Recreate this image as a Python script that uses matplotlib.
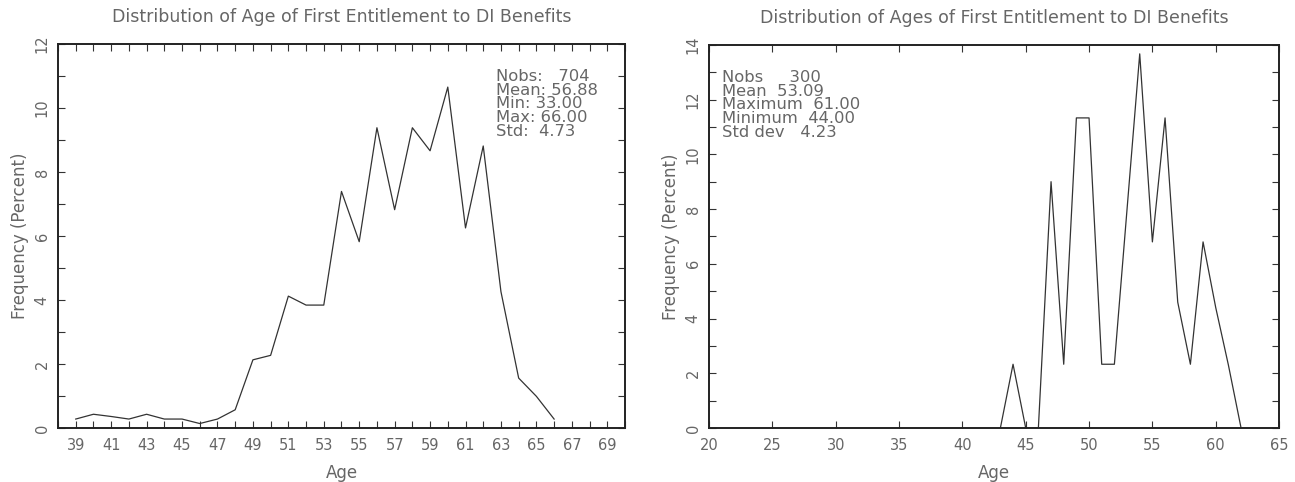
import matplotlib
matplotlib.use("Agg")
import matplotlib.pyplot as plt
from matplotlib.ticker import MultipleLocator

# left panel: 704 observations
ages_a = [39, 40, 41, 42, 43, 44, 45, 46, 47, 48, 49, 50, 51, 52,
          53, 54, 55, 56, 57, 58, 59, 60, 61, 62, 63, 64, 65, 66]
freq_a = [0.28, 0.43, 0.36, 0.28, 0.43, 0.28, 0.28, 0.14, 0.28, 0.57,
          2.13, 2.27, 4.12, 3.84, 3.84, 7.39, 5.82, 9.38, 6.82, 9.38,
          8.66, 10.65, 6.25, 8.81, 4.26, 1.56, 0.99, 0.28]
stats_a = "Nobs:   704\nMean: 56.88\nMin: 33.00\nMax: 66.00\nStd:  4.73"

# right panel: 300 observations
ages_b = [43, 44, 45, 46, 47, 48, 49, 50, 51, 52, 53, 54,
          55, 56, 57, 58, 59, 60, 61, 62]
freq_b = [0.0, 2.33, 0.0, 0.0, 9.0, 2.33, 11.33, 11.33, 2.33, 2.33,
          8.0, 13.67, 6.8, 11.33, 4.6, 2.33, 6.8, 4.4, 2.3, 0.0]
stats_b = "Nobs     300\nMean  53.09\nMaximum  61.00\nMinimum  44.00\nStd dev   4.23"

txt = "#666666"
plt.rcParams["font.family"] = ["DejaVu Sans"]


def setup(ax, title, xlim, ylim, xmajor):
    ax.set_xlim(*xlim)
    ax.set_ylim(*ylim)
    ax.xaxis.set_major_locator(MultipleLocator(xmajor))
    ax.yaxis.set_major_locator(MultipleLocator(2))
    ax.yaxis.set_minor_locator(MultipleLocator(1))
    ax.tick_params(which="both", direction="in", top=True, right=True,
                   length=5, width=0.8, color="#333333")
    ax.tick_params(axis="both", labelsize=10.5, labelcolor=txt)
    ax.tick_params(axis="y", labelrotation=90, pad=6)
    ax.tick_params(axis="x", pad=7)
    for lab in ax.get_yticklabels():
        lab.set_va("center")
    for s in ax.spines.values():
        s.set_linewidth(1.4)
        s.set_color("#222222")
    ax.set_title(title, fontsize=12.5, color=txt, pad=16)
    ax.set_xlabel("Age", fontsize=12, color=txt, labelpad=8)
    ax.set_ylabel("Frequency (Percent)", fontsize=12, color=txt, labelpad=4)


fig = plt.figure(figsize=(12.95, 4.82), dpi=100)
ax1 = fig.add_axes([0.0448, 0.112, 0.4378, 0.797])
ax2 = fig.add_axes([0.5475, 0.112, 0.4402, 0.795])

ax1.plot(ages_a, freq_a, color="#333333", lw=0.9)
setup(ax1, "Distribution of Age of First Entitlement to DI Benefits",
      (38, 70), (0, 12), 2)
ax1.set_xticks(range(39, 70, 2))
ax1.set_xticks(range(38, 71), minor=True)
ax1.text(0.772, 0.935, stats_a, transform=ax1.transAxes, fontsize=11.8,
         color=txt, va="top", ha="left", linespacing=0.9)

ax2.plot(ages_b, freq_b, color="#333333", lw=0.9)
setup(ax2, "Distribution of Ages of First Entitlement to DI Benefits",
      (20, 65), (0, 14), 5)
ax2.text(0.022, 0.935, stats_b, transform=ax2.transAxes, fontsize=11.8,
         color=txt, va="top", ha="left", linespacing=0.9)

fig.savefig("out.png", dpi=100)
